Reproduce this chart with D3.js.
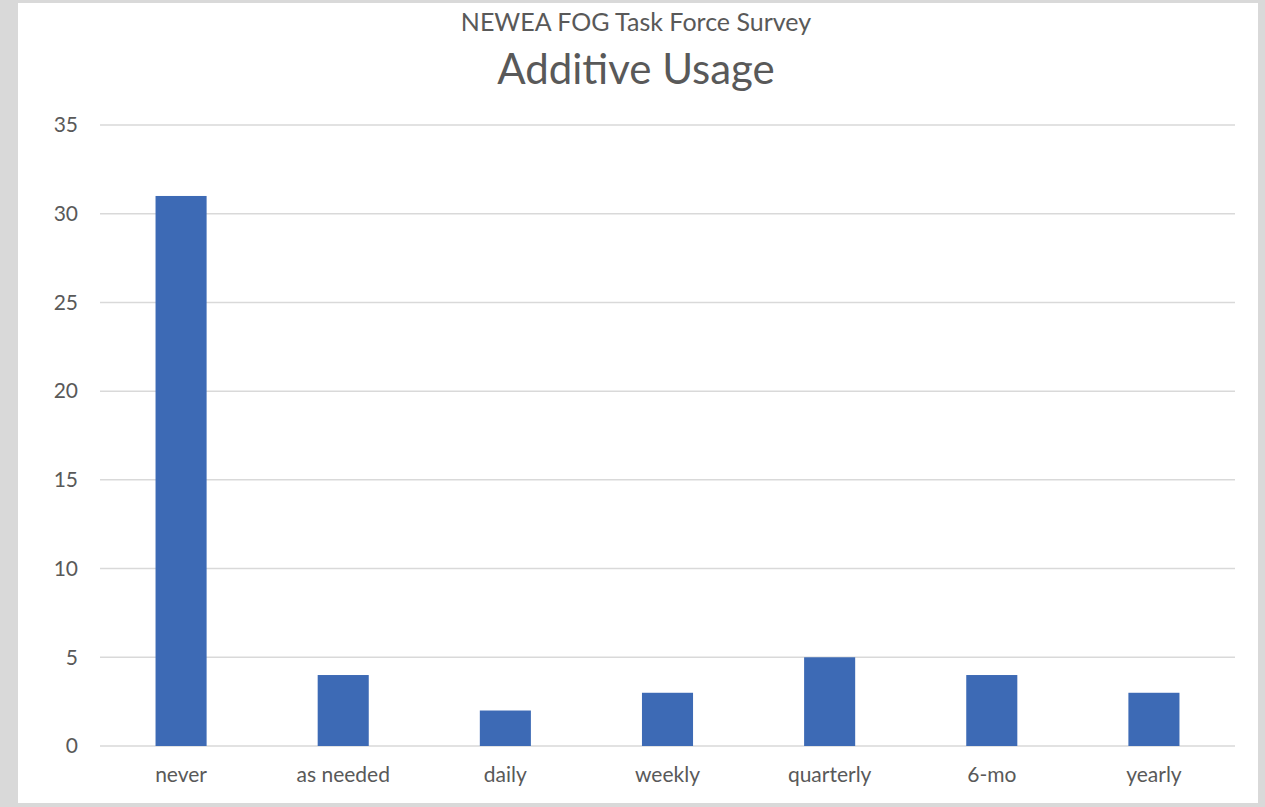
<!DOCTYPE html>
<html>
<head>
<meta charset="utf-8">
<script src="https://cdn.jsdelivr.net/npm/d3@7"></script>
<style>
  body { margin: 0; background: #d9d9d9; }
  text { font-family: Lato, "Open Sans", sans-serif; fill: #595959; }
</style>
</head>
<body>
<script>
var categories = ["never", "as needed", "daily", "weekly", "quarterly", "6-mo", "yearly"];
var counts = [31, 4, 2, 3, 5, 4, 3];
var yTicks = [0, 5, 10, 15, 20, 25, 30, 35];
var subtitle = "NEWEA FOG Task Force Survey";
var title = "Additive Usage";

var W = 1265, H = 807;
var margin = {top: 125, right: 30, bottom: 61, left: 100},
    width = 1235 - margin.left,
    height = 746 - margin.top;

var svg = d3.select("body").append("svg")
    .attr("width", W)
    .attr("height", H)
    .style("display", "block");

// white chart area inside the gray frame
svg.append("rect")
    .attr("x", 18).attr("y", 3)
    .attr("width", 1240).attr("height", 800)
    .attr("fill", "#fff");

svg.append("text")
    .attr("x", 636).attr("y", 31)
    .attr("text-anchor", "middle")
    .style("font-size", "25px")
    .text(subtitle);

svg.append("text")
    .attr("x", 636).attr("y", 84)
    .attr("text-anchor", "middle")
    .style("font-size", "42px")
    .text(title);

var g = svg.append("g")
    .attr("transform", "translate(" + margin.left + "," + margin.top + ")");

var x = d3.scaleBand()
    .domain(categories)
    .range([0, width])
    .paddingInner(0.685)
    .paddingOuter(0.3425);

var y = d3.scaleLinear()
    .domain([0, 35])
    .range([height, 0]);

// gridlines
g.append("g")
  .selectAll("line")
  .data(yTicks)
  .enter().append("line")
    .attr("x1", 0).attr("x2", width)
    .attr("y1", function(d) { return y(d); })
    .attr("y2", function(d) { return y(d); })
    .attr("stroke", "#d9d9d9")
    .attr("stroke-width", 1.5);

// y axis labels
var yAxis = g.append("g")
    .call(d3.axisLeft(y).tickValues(yTicks).tickSize(0).tickPadding(22));
yAxis.select(".domain").remove();
yAxis.selectAll("text").style("font-size", "21px").attr("fill", "#595959");

g.append("g")
  .selectAll("rect")
  .data(counts)
  .enter().append("rect")
    .attr("x", function(d, i) { return x(categories[i]); })
    .attr("y", function(d) { return y(d); })
    .attr("width", x.bandwidth())
    .attr("height", function(d) { return height - y(d); })
    .attr("fill", "#3d6ab5");

// x axis
var xAxis = g.append("g")
    .attr("transform", "translate(0," + height + ")")
    .call(d3.axisBottom(x).tickSize(0).tickPadding(21));
xAxis.select(".domain").remove();
xAxis.selectAll("text").style("font-size", "21px").attr("fill", "#595959");
</script>
</body>
</html>
